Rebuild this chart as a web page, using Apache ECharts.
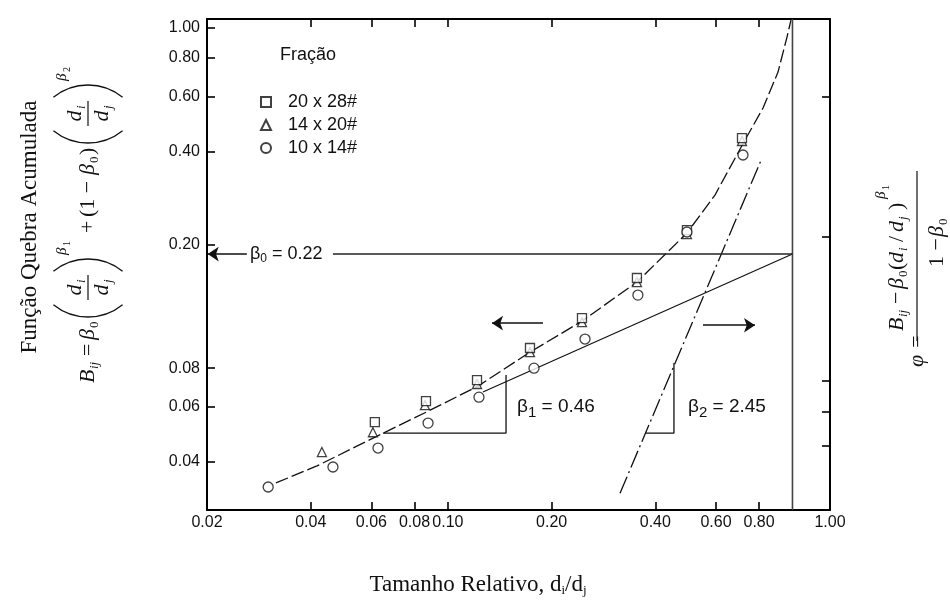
<!DOCTYPE html>
<html>
<head>
<meta charset="utf-8">
<script src="https://cdn.jsdelivr.net/npm/echarts@6.0.0/dist/echarts.min.js"></script>
<style>
html, body { margin: 0; padding: 0; background: #fff; }
#quebra { width: 950px; height: 603px; }
</style>
</head>
<body>
<div id="quebra"></div>
<script>
// limites dos eixos (log-log)
const X_MIN = 0.02, X_MAX = 1.285
const Y_MIN = 0.0279, Y_MAX = 1.069

// marcas e rotulos dos eixos
const xTickValues = [0.04, 0.06, 0.08, 0.1, 0.2, 0.4, 0.6, 0.8]
const xLabelValues = [0.02, 0.04, 0.06, 0.08, 0.1, 0.2, 0.4, 0.6, 0.8, X_MAX]
const xLabels = ['0.02', '0.04', '0.06', '0.08', '0.10', '0.20', '0.40', '0.60', '0.80', '1.00']
const yTickValues = [0.04, 0.06, 0.08, 0.2, 0.4, 0.6, 0.8, 1.0]
const yLabels = ['0.04', '0.06', '0.08', '0.20', '0.40', '0.60', '0.80', '1.00']
const phiTickValues = [0.045, 0.058, 0.073, 0.212, 0.6]

// pontos experimentais [di/dj, Bij]
const frac2028 = [[0.0614, 0.0536], [0.0864, 0.0626], [0.1215, 0.0732], [0.1731, 0.0929], [0.245, 0.116], [0.3537, 0.1562], [0.494, 0.223], [0.7137, 0.4417]]
const frac1420 = [[0.0431, 0.0429], [0.0606, 0.0497], [0.0858, 0.0608], [0.1215, 0.0711], [0.1731, 0.0901], [0.245, 0.1126], [0.3537, 0.1516], [0.494, 0.2165], [0.7137, 0.432]]
const frac1014 = [[0.0301, 0.0331], [0.0464, 0.0384], [0.0627, 0.0442], [0.0876, 0.0532], [0.1231, 0.0645], [0.1778, 0.080], [0.25, 0.0993], [0.356, 0.1376], [0.494, 0.2198], [0.7184, 0.3894]]

// curvas
const fitCurve = [[0.0317, 0.0341], [0.0417, 0.0387], [0.0582, 0.0465], [0.0876, 0.0581], [0.1223, 0.070], [0.1731, 0.0901], [0.245, 0.1134], [0.3537, 0.1516], [0.494, 0.2182], [0.5958, 0.2892], [0.728, 0.4352], [0.8214, 0.552], [0.908, 0.721], [0.964, 0.935], [0.99, 1.06]]
const beta1Line = [[0.1264, 0.067], [1.0, 0.1866]]
const phiLine = [[0.3159, 0.0316], [0.8158, 0.3807]]
const beta0Line = [[0.0464, 0.1866], [1.0, 0.1866]]
const limitLine = [[1.0, Y_MIN], [1.0, Y_MAX]]
const slope1 = [[0.0648, 0.0494], [0.1475, 0.0494], [0.1475, 0.076]]
const slope2 = [[0.3733, 0.0494], [0.453, 0.0494], [0.453, 0.0831]]
const arrows = [
  [[0.0261, 0.1866], [0.0201, 0.1866]],
  [[0.1888, 0.1117], [0.1343, 0.1117]],
  [[0.5499, 0.110], [0.7785, 0.110]]
]

const SANS = '"Liberation Sans", Arial, sans-serif'
const SERIF = '"Liberation Serif", "Times New Roman", serif'

function nearestLabel(v, values, labels) {
  let best = 0
  values.forEach((t, i) => {
    if (Math.abs(Math.log(t / v)) < Math.abs(Math.log(values[best] / v))) best = i
  })
  return labels[best]
}

function lineSeries(data, style) {
  return {
    type: 'line', data: data, symbol: 'none', silent: true, z: 2,
    lineStyle: Object.assign({ color: '#111', width: 1.3 }, style)
  }
}

function t(x, y, text, font, align) {
  return {
    type: 'text', x: x, y: y,
    style: { text: text, font: font, fill: '#111', align: align || 'left', verticalAlign: 'middle', textAlign: align || 'left', textVerticalAlign: 'middle' }
  }
}
function bar(x1, x2, y) {
  return { type: 'line', shape: { x1: x1, y1: y, x2: x2, y2: y }, style: { stroke: '#111', lineWidth: 1.2 } }
}
// parenteses grandes desenhados como arcos finos
function paren(edge, side) {
  const R = 55, a = 0.68
  const cx = side === 'left' ? edge + R : edge - R
  const s = side === 'left' ? Math.PI - a : -a
  return { type: 'arc', shape: { cx: cx, cy: 0, r: R, startAngle: s, endAngle: s + 2 * a, clockwise: true },
    style: { stroke: '#111', lineWidth: 1.3, fill: null } }
}

const iv = 'italic 22px ' + SERIF, nv = '22px ' + SERIF
const isub = 'italic 13px ' + SERIF, nsub = '13px ' + SERIF
const isup = 'italic 15px ' + SERIF, nsup = '10px ' + SERIF

// formula do eixo esquerdo (coordenadas locais, girada 90 graus)
const leftFormula = [
  t(0, 0, 'B', iv), t(14, 7, 'ij', isub),
  t(27, 0, '=', nv),
  t(43, 0, 'β', iv), t(55, 7, '0', nsub),
  paren(66, 'left'),
  t(93, -13, 'd', iv, 'center'), t(100, -6, 'i', isub),
  bar(83, 108, 0),
  t(93, 14, 'd', iv, 'center'), t(100, 21, 'j', isub),
  paren(124, 'right'),
  t(128, -26, 'β', isup), t(137, -21, '1', nsup),
  t(150, 0, '+', nv),
  t(166, 0, '(1 −', nv),
  t(208, 0, 'β', iv), t(220, 7, '0', nsub),
  t(228, 0, ')', nv),
  paren(240, 'left'),
  t(267, -13, 'd', iv, 'center'), t(274, -6, 'i', isub),
  bar(257, 282, 0),
  t(267, 14, 'd', iv, 'center'), t(274, 21, 'j', isub),
  paren(298, 'right'),
  t(302, -26, 'β', isup), t(311, -21, '2', nsup)
]

// formula do eixo direito (phi)
const rightFormula = [
  t(0, 0, 'φ =', iv),
  bar(26, 196, 0),
  t(36, -20, 'B', iv), t(50, -13, 'ij', isub),
  t(63, -20, '−', nv),
  t(78, -20, 'β', iv), t(90, -13, '0', nsub),
  t(97, -20, '(', nv),
  t(104, -20, 'd', iv), t(116, -13, 'i', isub),
  t(125, -20, '/', nv),
  t(135, -20, 'd', iv), t(147, -13, 'j', isub),
  t(157, -20, ')', nv),
  t(168, -36, 'β', isup), t(177, -31, '1', nsup),
  t(100, 20, '1 −', nv),
  t(130, 20, 'β', iv), t(142, 27, '0', nsub)
]

const chart = echarts.init(document.getElementById('quebra'))

const frameLine = { show: true, onZero: false, lineStyle: { color: '#000', width: 2 } }
const tickStyle = { color: '#000', width: 1.6 }

const option = {
  animation: false,
  backgroundColor: '#fff',
  grid: { left: 207, right: 120, top: 19, bottom: 93, containLabel: false },
  legend: {
    orient: 'vertical', left: 255, top: 88,
    itemWidth: 10, itemHeight: 10, itemGap: 5,
    selectedMode: false,
    textStyle: { fontSize: 18, fontFamily: SANS, color: '#111', padding: [0, 0, 0, 12] },
    data: ['20 x 28#', '14 x 20#', '10 x 14#']
  },
  xAxis: [{
    type: 'log', logBase: 10, min: X_MIN, max: X_MAX, position: 'bottom',
    axisLine: frameLine,
    axisTick: { show: true, inside: true, length: 8, lineStyle: tickStyle, customValues: xTickValues },
    axisLabel: {
      customValues: xLabelValues.map((v, i) => i === 0 ? v * 1.0001 : (i === xLabelValues.length - 1 ? v * 0.9999 : v)),
      formatter: v => nearestLabel(v, xLabelValues, xLabels),
      fontSize: 16, fontFamily: SANS, color: '#111', margin: 5
    },
    splitLine: { show: false }, minorTick: { show: false }
  }, {
    type: 'log', logBase: 10, min: X_MIN, max: X_MAX, position: 'top',
    axisLine: frameLine,
    axisTick: { show: true, inside: true, length: 8, lineStyle: tickStyle, customValues: xTickValues },
    axisLabel: { show: false },
    splitLine: { show: false }
  }],
  yAxis: [{
    type: 'log', logBase: 10, min: Y_MIN, max: Y_MAX, position: 'left',
    axisLine: frameLine,
    axisTick: { show: true, inside: true, length: 8, lineStyle: tickStyle, customValues: yTickValues },
    axisLabel: {
      customValues: yTickValues,
      formatter: v => nearestLabel(v, yTickValues, yLabels),
      fontSize: 16, fontFamily: SANS, color: '#111', margin: 7
    },
    splitLine: { show: false }
  }, {
    type: 'log', logBase: 10, min: Y_MIN, max: Y_MAX, position: 'right',
    axisLine: frameLine,
    axisTick: { show: true, inside: true, length: 8, lineStyle: tickStyle, customValues: phiTickValues },
    axisLabel: { show: false },
    splitLine: { show: false }
  }],
  graphic: [
    { type: 'text', x: 30, y: 227, rotation: Math.PI / 2,
      style: { text: 'Função Quebra Acumulada', font: '23px ' + SERIF, fill: '#111', align: 'center', verticalAlign: 'middle', textAlign: 'center', textVerticalAlign: 'middle' } },
    { type: 'group', x: 88, y: 383, rotation: Math.PI / 2, children: leftFormula },
    { type: 'group', x: 917, y: 367, rotation: Math.PI / 2, children: rightFormula },
    { type: 'text', x: 478, y: 585,
      style: { text: 'Tamanho Relativo, d{s|i}/d{s|j}', font: '23px ' + SERIF, fill: '#111', align: 'center', verticalAlign: 'middle', textAlign: 'center', textVerticalAlign: 'middle',
        rich: { s: { fontSize: 13, fontFamily: SERIF, padding: [11, 0, 0, 0] } } } },
    { type: 'text', x: 280, y: 55, style: { text: 'Fração', font: '18px ' + SANS, fill: '#111', verticalAlign: 'middle', textVerticalAlign: 'middle' } },
    { type: 'text', x: 250, y: 254,
      style: { text: 'β{s|0} = 0.22', font: '18px ' + SANS, fill: '#111', verticalAlign: 'middle', textVerticalAlign: 'middle',
        rich: { s: { fontSize: 12, fontFamily: SANS, padding: [9, 0, 0, 0] } } } },
    { type: 'text', x: 517, y: 407,
      style: { text: 'β{s|1} = 0.46', font: '19px ' + SANS, fill: '#111', verticalAlign: 'middle', textVerticalAlign: 'middle',
        rich: { s: { fontSize: 15, fontFamily: SANS, padding: [12, 0, 0, 0] } } } },
    { type: 'text', x: 688, y: 407,
      style: { text: 'β{s|2} = 2.45', font: '19px ' + SANS, fill: '#111', verticalAlign: 'middle', textVerticalAlign: 'middle',
        rich: { s: { fontSize: 15, fontFamily: SANS, padding: [12, 0, 0, 0] } } } }
  ],
  series: [
    lineSeries(fitCurve, { type: [13, 4] }),
    lineSeries(beta1Line, { width: 1.2 }),
    lineSeries(phiLine, { type: [18, 4, 2, 4] }),
    lineSeries(limitLine, { color: '#444', width: 1.6 }),
    Object.assign(lineSeries(beta0Line, { color: '#222', width: 1.4 }), {
      markLine: {
        silent: true, symbol: ['none', 'arrow'], symbolSize: 11, animation: false,
        label: { show: false },
        lineStyle: { color: '#111', width: 1.5, type: 'solid' },
        data: arrows.map(a => [{ coord: a[0] }, { coord: a[1] }])
      }
    }),
    lineSeries(slope1, { width: 1.3 }),
    lineSeries(slope2, { width: 1.3 }),
    { name: '20 x 28#', type: 'scatter', data: frac2028, symbol: 'rect', symbolSize: 9, z: 5,
      itemStyle: { color: '#fff', borderColor: '#111', borderWidth: 1.3 } },
    { name: '14 x 20#', type: 'scatter', data: frac1420, symbol: 'triangle', symbolSize: 9, z: 4,
      itemStyle: { color: '#fff', borderColor: '#111', borderWidth: 1.3 } },
    { name: '10 x 14#', type: 'scatter', data: frac1014, symbol: 'circle', symbolSize: 10, z: 5,
      itemStyle: { color: '#fff', borderColor: '#111', borderWidth: 1.3 } }
  ]
}
option && chart.setOption(option)
window.addEventListener('resize', function () {
  chart.resize()
})
</script>
</body>
</html>
